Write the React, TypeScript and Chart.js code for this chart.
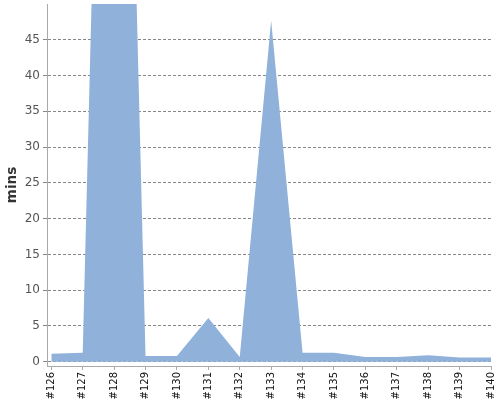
import React, { useEffect, useRef } from "react";
import Chart from "chart.js/auto";

// build numbers on the x axis, minutes on the y axis
const buildNumbers = [126, 127, 128, 129, 130, 131, 132, 133, 134, 135, 136, 137, 138, 139, 140];
const minutes = [1.1, 1.25, 175, 0.8, 0.8, 6.1, 0.65, 47.7, 1.25, 1.25, 0.65, 0.65, 0.9, 0.6, 0.6];
const yTickValues = [0, 5, 10, 15, 20, 25, 30, 35, 40, 45];

function App() {
  const canvasRef = useRef<HTMLCanvasElement | null>(null);

  useEffect(() => {
    if (!canvasRef.current) return;

    const chart = new Chart(canvasRef.current, {
      type: "line",
      data: {
        datasets: [
          {
            label: "mins",
            data: buildNumbers.map((b, i) => ({ x: b, y: minutes[i] })),
            backgroundColor: "#8fb1da",
            borderWidth: 0,
            pointRadius: 0,
            tension: 0,
            fill: "origin",
          },
        ],
      },
      options: {
        animation: false,
        responsive: true,
        maintainAspectRatio: false,
        layout: { padding: { top: 4, right: 9, left: 0, bottom: 0 } },
        plugins: {
          legend: { display: false },
          tooltip: { enabled: false },
        },
        scales: {
          x: {
            type: "linear",
            min: 125.863,
            max: 140,
            afterBuildTicks: (scale: any) => {
              scale.ticks = buildNumbers.map((v) => ({ value: v }));
            },
            afterFit: (scale: any) => {
              // fixed axis height, no extra room for the rotated end labels
              scale.height = 34;
              scale.paddingLeft = 0;
              scale.paddingRight = 0;
            },
            ticks: {
              autoSkip: false,
              minRotation: 90,
              maxRotation: 90,
              padding: 2,
              color: "#111",
              font: { family: "DejaVu Sans", size: 10 },
              callback: (value: any) => "#" + value,
            },
            grid: {
              drawOnChartArea: false,
              drawTicks: true,
              tickLength: 4,
              color: "#aaa",
            },
            border: { display: true, color: "#aaa", width: 1 },
          },
          y: {
            min: -0.6,
            max: 50,
            afterBuildTicks: (scale: any) => {
              scale.ticks = yTickValues.map((v) => ({ value: v }));
            },
            afterFit: (scale: any) => {
              scale.width = 47;
              scale.paddingTop = 0;
              scale.paddingBottom = 0;
            },
            ticks: {
              padding: 3,
              color: "#555",
              font: { family: "DejaVu Sans", size: 12 },
            },
            grid: {
              color: "#888",
              tickLength: 4,
              tickColor: "#888",
            },
            border: { display: true, color: "#aaa", width: 1, dash: [3, 2] },
            title: {
              display: true,
              text: "mins",
              color: "#333",
              padding: { top: 4, bottom: 0 },
              font: { family: "DejaVu Sans", size: 13.5, weight: "bold" },
            },
          },
        },
      },
    });

    return () => {
      chart.destroy();
    };
  }, []);

  return (
    <div style={{ position: "fixed", left: 0, top: 0, width: 500, height: 400, background: "#fff" }}>
      <canvas ref={canvasRef}></canvas>
    </div>
  );
}

export default App;
